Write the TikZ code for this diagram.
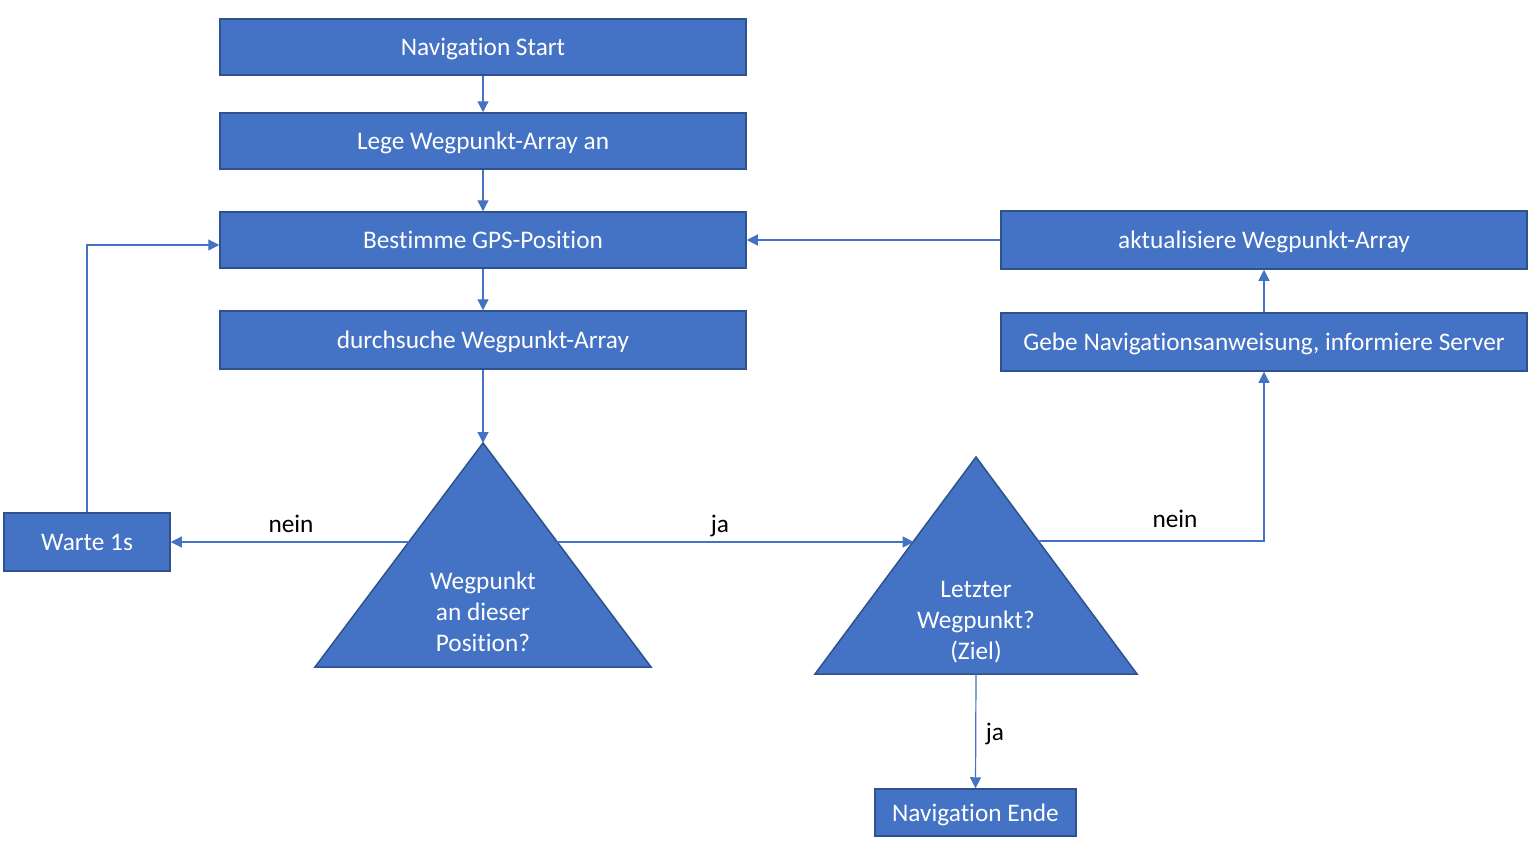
\documentclass[tikz,border=0pt]{standalone}
\usepackage{fontspec}
\setmainfont{Carlito}[Ligatures={NoCommon}]
\usetikzlibrary{arrows.meta}
\definecolor{boxfill}{HTML}{4472C4}
\definecolor{boxedge}{HTML}{2F528F}
\begin{document}
\begin{tikzpicture}[x=1pt,y=-1pt,
 box/.style={draw=boxedge, line width=1.5pt, fill=boxfill, text=white,
   font=\fontsize{25.3}{31}\selectfont, inner sep=0pt, minimum width=526pt, minimum height=56pt,
   text height=20pt, text depth=2.6pt},
 tri/.style={draw=boxedge, line width=1.5pt, fill=boxfill, line join=miter},
 tritext/.style={text=white, font=\fontsize{25.3}{31}\selectfont, align=center, inner sep=0pt},
 conn/.style={draw=boxfill, line width=1.2pt, -{Triangle[length=11pt,width=11pt]}},
 lbl/.style={font=\fontsize{25.3}{31}\selectfont, text=black, inner sep=0pt}]
\useasboundingbox (0,0) rectangle (1533,846);

\node[box] (start) at (483,47) {Navigation Start};
\node[box] (lege) at (483,141) {Lege Wegpunkt-Array an};
\node[box] (best) at (483,240) {Bestimme GPS-Position};
\node[box, minimum height=58pt] (durch) at (483,340) {durchsuche Wegpunkt-Array};
\node[box, minimum width=166pt, minimum height=58pt] (warte) at (87,542) {Warte 1s};
\node[box, minimum width=526pt, minimum height=58pt] (akt) at (1264,240) {aktualisiere Wegpunkt-Array};
\node[box, minimum width=526pt, minimum height=58pt] (gebe) at (1264,342) {Gebe Navigationsanweisung, informiere Server};
\node[box, minimum width=201pt, minimum height=47pt] (ende) at (975.5,812.5) {Navigation Ende};

% decision triangles
\draw[tri] (483,443) coordinate (t1top) -- (315,667) -- (651,667) -- cycle;
\coordinate (t1l) at (408.7,542);
\coordinate (t1r) at (557.3,542);
\coordinate (t1bot) at (483,667);
\node[tritext] (t1txt) at (483,612) {Wegpunkt\\an dieser\\Position?};

\draw[tri] (976,457) coordinate (t2top) -- (815,674) -- (1137,674) -- cycle;
\coordinate (t2l) at (913.7,542);
\coordinate (t2r) at (1038.3,541);
\coordinate (t2bot) at (976,674);
\node[tritext] (t2txt) at (976,622) {Letzter\\Wegpunkt?\\(Ziel)};

% connectors
\draw[conn] (start.south) -- (lege.north);
\draw[conn] (lege.south) -- (best.north);
\draw[conn] (best.south) -- (durch.north);
\draw[conn] (durch.south) -- (t1top);
\draw[conn] (t1l) -- (warte.east);
\draw[conn] (t1r) -- (t2l);
\draw[conn] (warte.north) |- ([yshift=-5pt]best.west);
\draw[conn] (akt.west) -- (best.east);
\draw[conn] (gebe.north) -- (akt.south);
\draw[conn] (t2r) -| (gebe.south);
\draw[conn] (t2bot) -- (ende.north);

% labels
\node[lbl] (l1) at (291,524) {nein};
\node[lbl] (l2) at (720,526) {ja};
\node[lbl] (l3) at (1175,519) {nein};
\node[lbl] (l4) at (995,734) {ja};
\end{tikzpicture}
\end{document}
